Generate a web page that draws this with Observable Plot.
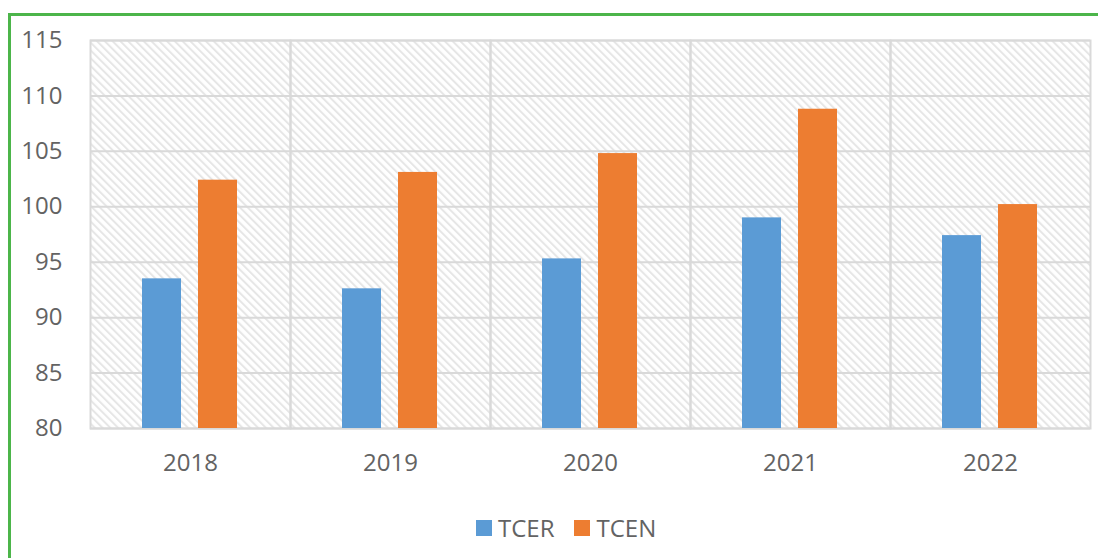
<!DOCTYPE html>
<html>
<head>
<meta charset="utf-8">
<script src="https://cdn.jsdelivr.net/npm/d3@7"></script>
<script src="https://cdn.jsdelivr.net/npm/@observablehq/plot@0.6"></script>
<style>
  html, body { margin: 0; padding: 0; background: #fff; overflow: hidden; }
  #wrap { position: relative; width: 1098px; height: 558px; overflow: hidden; font-family: "Open Sans", sans-serif; }
  #border { position: absolute; left: 8px; top: 13px; width: 1200px; height: 700px; border: 3px solid #4cb54a; box-sizing: border-box; }
  #chart { position: absolute; left: 0; top: 0; }
  #legend { position: absolute; left: 476px; top: 511px; display: flex; align-items: center; font-size: 24px; color: #636363; }
  .sw { width: 16px; height: 16px; display: inline-block; margin-right: 6px; }
  .item { display: flex; align-items: center; margin-right: 20px; }
</style>
</head>
<body>
<div id="wrap">
  <div id="border"></div>
  <div id="chart"></div>
  <div id="legend"></div>
</div>
<script>
const years = ["2018", "2019", "2020", "2021", "2022"];
const tcer = [93.5, 92.6, 95.3, 99.0, 97.4];
const tcen = [102.4, 103.1, 104.8, 108.8, 100.2];
const seriesNames = ["TCER", "TCEN"];
const seriesColors = ["#5b9bd5", "#ed7d31"];
const yTicks = [80, 85, 90, 95, 100, 105, 110, 115];

const rows = [];
years.forEach((yr, i) => {
  rows.push({year: yr, series: "TCER", value: tcer[i]});
  rows.push({year: yr, series: "TCEN", value: tcen[i]});
});

const svg = Plot.plot({
  width: 1098,
  height: 480,
  marginLeft: 90,
  marginRight: 8,
  marginTop: 40,
  marginBottom: 52,
  style: {fontSize: "24px", fontFamily: "'Open Sans', sans-serif", color: "#636363", background: "transparent", overflow: "visible"},
  fx: {domain: years, padding: 0, tickSize: 0, tickPadding: 25, label: null},
  x: {domain: seriesNames, paddingInner: 0.3, paddingOuter: 0.92, axis: null},
  y: {domain: [80, 115], ticks: yTicks, tickSize: 0, tickPadding: 28, label: null},
  color: {domain: seriesNames, range: seriesColors},
  marks: [
    Plot.frame({fill: "url(#hatch)", stroke: null}),
    Plot.gridY(yTicks, {stroke: "#d9d9d9", strokeOpacity: 1, strokeWidth: 2}),
    Plot.frame({stroke: "#d9d9d9", strokeWidth: 2}),
    Plot.barY(rows, {fx: "year", x: "series", y1: 80, y2: "value", fill: "series"})
  ]
});

const defs = d3.select(svg).insert("defs", ":first-child");
const pat = defs.append("pattern")
  .attr("id", "hatch")
  .attr("patternUnits", "userSpaceOnUse")
  .attr("width", 5.5)
  .attr("height", 5.5)
  .attr("patternTransform", "rotate(-45)");
pat.append("rect").attr("width", 5.5).attr("height", 5.5).attr("fill", "#ffffff");
pat.append("line").attr("x1", 1).attr("x2", 1).attr("y1", 0).attr("y2", 5.5)
  .attr("stroke", "#e6e6e6").attr("stroke-width", 2);

document.getElementById("chart").appendChild(svg);

const legend = document.getElementById("legend");
seriesNames.forEach((name, i) => {
  const item = document.createElement("div");
  item.className = "item";
  const sw = document.createElement("span");
  sw.className = "sw";
  sw.style.background = seriesColors[i];
  const t = document.createElement("span");
  t.textContent = name;
  item.appendChild(sw);
  item.appendChild(t);
  legend.appendChild(item);
});
</script>
</body>
</html>
